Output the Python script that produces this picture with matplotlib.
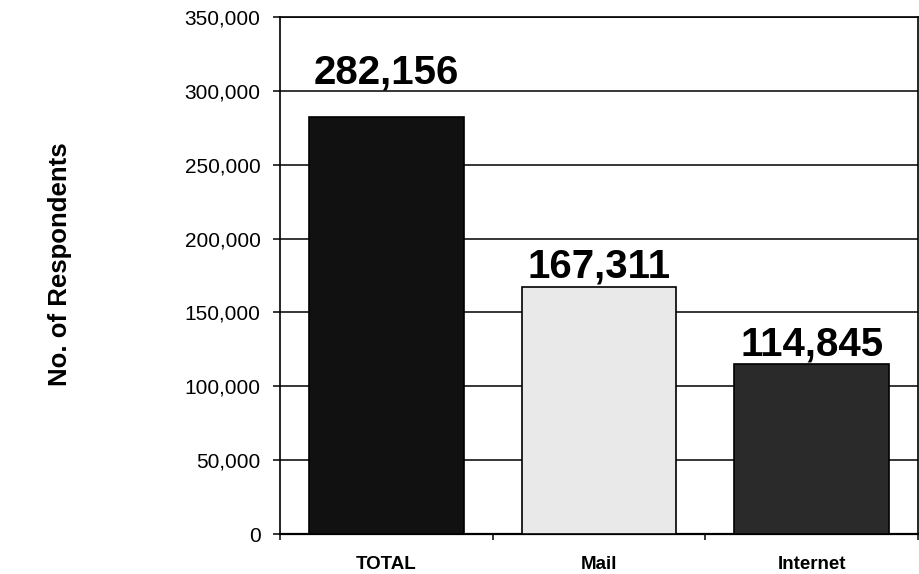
import matplotlib
matplotlib.use("Agg")
import matplotlib.pyplot as plt
from matplotlib.ticker import FuncFormatter, FixedLocator

plt.rcParams['font.family'] = ['Liberation Sans', 'DejaVu Sans']

categories = ["TOTAL", "Mail", "Internet"]
respondents = [282156, 167311, 114845]
bar_colors = ["#111111", "#e9e9e9", "#2a2a2a"]
y_ticks = [0, 50000, 100000, 150000, 200000, 250000, 300000, 350000]

fig = plt.figure(figsize=(9.19, 5.74), dpi=100)
ax = fig.add_axes([280 / 919, 1 - 534 / 574, (918 - 280) / 919, (534 - 17) / 574])

x = list(range(len(categories)))
bars = ax.bar(x, respondents, width=0.727, color=bar_colors,
              edgecolor="black", linewidth=1.2, zorder=3)

ax.set_xlim(-0.5, len(categories) - 0.5)
ax.set_ylim(0, 350000)

# horizontal gridlines at every y tick
ax.set_yticks(y_ticks)
ax.yaxis.set_major_formatter(FuncFormatter(lambda v, p: f"{int(v):,}"))
ax.grid(axis="y", color="black", linewidth=1.1, zorder=0)
ax.tick_params(axis="y", direction="out", length=5, width=1.1,
               pad=9, labelsize=15, colors="black")

# category separators as major ticks, names centered as minor ticks
ax.xaxis.set_major_locator(FixedLocator([-0.5, 0.5, 1.5, 2.5]))
ax.xaxis.set_major_formatter(FuncFormatter(lambda v, p: ""))
ax.xaxis.set_minor_locator(FixedLocator(x))
ax.set_xticklabels(categories, minor=True, fontweight="bold", fontsize=13.5)
ax.tick_params(axis="x", which="major", direction="out", length=4.5, width=1.1)
ax.tick_params(axis="x", which="minor", length=0, pad=15.5)

for side in ["left", "right", "top", "bottom"]:
    ax.spines[side].set_linewidth(1.2)
    ax.spines[side].set_color("black")
ax.spines["bottom"].set_linewidth(1.6)

# value labels above each bar
label_lift = [24.5, 6.5, 6.5]
for xi, val, lift in zip(x, respondents, label_lift):
    ax.annotate(f"{val:,}", xy=(xi, val), xytext=(0, lift),
                textcoords="offset points", ha="center", va="baseline",
                fontsize=29, fontweight="bold", color="black", zorder=5)

fig.text(60 / 919, 1 - 264 / 574, "No. of Respondents", rotation=90,
         ha="center", va="center", fontsize=18.5, fontweight="bold")

fig.savefig("out.png", dpi=100)
